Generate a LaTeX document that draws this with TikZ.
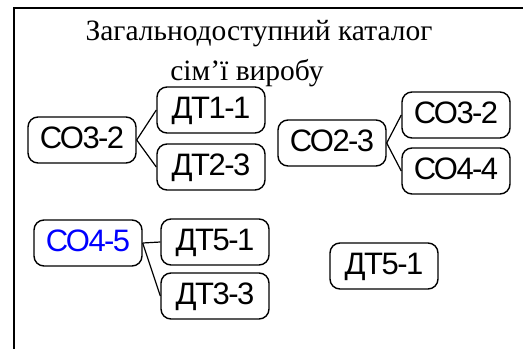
\documentclass[tikz,border=0pt]{standalone}
\usepackage{fontspec}
\setmainfont{Liberation Serif}
\newfontfamily\partfont[LetterSpace=-5]{Liberation Sans}

\tikzset{%
  part/.style={
    rectangle,
    rounded corners=10pt,
    line width=1.4pt,
    draw,
    minimum width=108pt,
    minimum height=46pt,
    inner sep=0pt,
    text height=22pt,
    text depth=5pt,
    font=\partfont\fontsize{31}{31}\selectfont,
    align=center
  },
  part selected/.style={
    part,
    text=blue
  },
  link/.style={
    line width=1.2pt
  },
  heading/.style={
    anchor=base,
    font=\fontsize{29.5}{29.5}\selectfont
  },
}

\begin{document}
\begin{tikzpicture}[x=1pt,y=-1pt]
\useasboundingbox (0,0) rectangle (523,349);
\draw[line width=2.6pt] (523,8) -- (14,8) -- (14,349);
\node[heading] (title) at (259,40) {Загальнодоступний каталог};
\node[heading] (subtitle) at (247,80) {сім’ї виробу};
\node[part] (co32) at (82,140) {СО3-2};
\node[part] (dt11) at (211,110) {ДТ1-1};
\node[part] (dt23) at (211,167) {ДТ2-3};
\node[part] (co23) at (332,143) {СО2-3};
\node[part] (co32b) at (456,115) {СО3-2};
\node[part] (co44) at (456,171) {СО4-4};
\node[part selected] (co45) at (88,243) {СО4-5};
\node[part] (dt51) at (215,242) {ДТ5-1};
\node[part] (dt33) at (215,296) {ДТ3-3};
\node[part] (dt51b) at (384,266) {ДТ5-1};
\draw[link] (co32.east) -- (dt11.west);
\draw[link] (co32.east) -- (dt23.west);
\draw[link] (co23.east) -- (co32b.west);
\draw[link] (co23.east) -- (co44.west);
\draw[link] (co45.east) -- (dt51.west);
\draw[link] (co45.east) -- (dt33.west);
\end{tikzpicture}
\end{document}
